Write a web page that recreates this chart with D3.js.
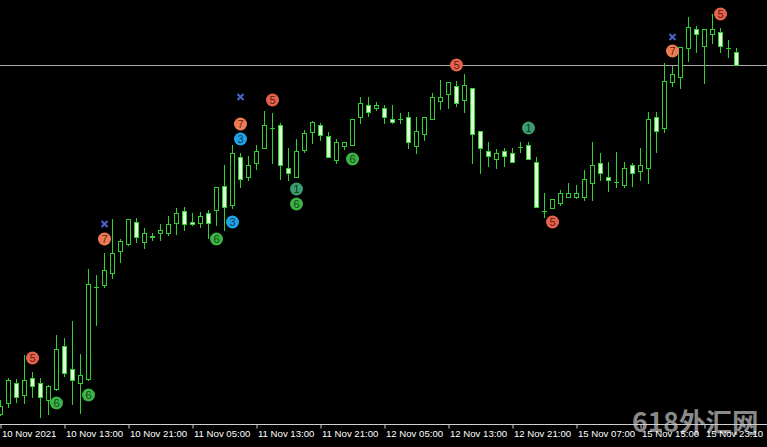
<!DOCTYPE html>
<html>
<head>
<meta charset="utf-8">
<script src="https://cdn.jsdelivr.net/npm/d3@7"></script>
<style>
html,body{margin:0;padding:0;background:#000;overflow:hidden;}
svg{display:block;}
</style>
</head>
<body>
<svg id="chart" width="767" height="447"></svg>
<script>
// ---- DATA (hourly candles, price in points) ----
const openV  = [1006,1017,1037,1025,1042,1037,1020,1031,1074,1051,1037,1041,1133,1135,1147,1169,1176,1198,1178,1183,1187,1187,1197,1209,1198,1197,1207,1210,1234,1215,1263,1243,1257,1272,1292,1295,1252,1243,1270,1288,1295,1284,1260,1274,1275,1303,1315,1312,1312,1301,1301,1303,1274,1286,1301,1319,1326,1334,1320,1332,1289,1269,1261,1269,1267,1273,1275,1258,1209,1212,1217,1223,1223,1223,1237,1257,1243,1238,1235,1255,1249,1252,1303,1292,1338,1343,1372,1391,1374,1386,1388,1372,1368];
const closeV = [1014,1040,1023,1040,1034,1023,1034,1071,1047,1040,1045,1136,1133,1150,1167,1179,1201,1183,1187,1184,1190,1196,1207,1196,1196,1204,1197,1233,1213,1267,1241,1255,1269,1295,1292,1255,1247,1269,1287,1298,1285,1263,1278,1278,1301,1317,1308,1315,1303,1298,1301,1278,1289,1303,1323,1323,1338,1317,1335,1286,1272,1264,1267,1264,1258,1273,1261,1213,1209,1221,1227,1227,1227,1241,1255,1247,1240,1238,1252,1247,1255,1301,1289,1339,1346,1373,1393,1386,1391,1391,1374,1372,1355];
const highV  = [1020,1042,1041,1065,1048,1042,1035,1085,1082,1099,1066,1151,1145,1167,1201,1181,1201,1202,1192,1187,1196,1204,1212,1213,1207,1208,1210,1233,1255,1275,1267,1264,1275,1309,1307,1297,1272,1281,1290,1299,1297,1288,1281,1278,1301,1323,1323,1318,1315,1315,1307,1308,1303,1303,1327,1340,1338,1339,1346,1332,1289,1278,1271,1272,1272,1278,1278,1263,1227,1221,1230,1237,1235,1250,1278,1267,1258,1268,1258,1257,1272,1308,1308,1357,1354,1373,1403,1394,1391,1406,1392,1380,1372];
const lowV   = [1005,1013,1018,1017,1023,1003,1006,1030,1044,1016,1007,1040,1095,1133,1142,1158,1175,1178,1172,1180,1180,1185,1186,1190,1195,1193,1182,1195,1190,1212,1233,1240,1251,1272,1257,1241,1240,1243,1268,1277,1280,1263,1257,1271,1275,1297,1304,1310,1297,1297,1297,1272,1267,1280,1301,1311,1312,1314,1308,1257,1247,1254,1252,1254,1258,1268,1261,1213,1203,1212,1215,1223,1222,1220,1220,1240,1229,1233,1233,1234,1240,1237,1268,1288,1334,1332,1359,1368,1337,1377,1368,1363,1355];

const tickIndex  = [0,8,16,24,32,40,48,56,64,72,80,88];
const tickLabels = ["10 Nov 2021","10 Nov 13:00","10 Nov 21:00","11 Nov 05:00","11 Nov 13:00","11 Nov 21:00","12 Nov 05:00","12 Nov 13:00","12 Nov 21:00","15 Nov 07:00","15 Nov 15:00","15 Nov 23:10"];

const priceLine = 1355;

// signal markers
const markerIndex = [4,7,11,13,27,29,30,30,34,37,37,44,57,66,69,84,90];
const markerValue = [1062,1017,1025,1181,1181,1198,1281,1296,1320,1231,1216,1261,1355,1292,1198,1369,1406];
const markerLabel = ["5","6","6","7","6","3","3","7","5","1","6","6","5","1","5","7","5"];
const crossIndex  = [13,30,84];
const crossValue  = [1196,1323,1383];

// ---- DRAW ----
const W = 767, H = 447;
const svg = d3.select("#chart");
svg.append("rect").attr("width",W).attr("height",H).attr("fill","#000");

const x = d3.scaleLinear().domain([0,92]).range([0,736]);
const y = d3.scaleLinear().domain([1000,1420]).range([420,0]);

const UP = "#2fd02f", FILL_DN = "#defcd6";
const candles = openV.map((o,i)=>({i,o,c:closeV[i],h:highV[i],l:lowV[i]}));

// watermark (behind everything)
svg.append("text").text("618外汇网")
  .attr("x",632).attr("y",432)
  .attr("font-family","Noto Sans CJK SC, sans-serif").attr("font-weight",700).attr("font-size",26.5)
  .attr("fill","#a4a4a4").attr("fill-opacity",0.85);

// price line
svg.append("line")
  .attr("x1",0).attr("x2",W)
  .attr("y1",Math.round(y(priceLine))+0.5).attr("y2",Math.round(y(priceLine))+0.5)
  .attr("stroke","#a8a8a8").attr("stroke-width",1);

const g = svg.append("g");
const cg = g.selectAll("g.c").data(candles).join("g").attr("class","c");
cg.append("line")
  .attr("x1",d=>Math.round(x(d.i))+0.5).attr("x2",d=>Math.round(x(d.i))+0.5)
  .attr("y1",d=>Math.round(y(d.h))).attr("y2",d=>Math.round(y(d.l))+1)
  .attr("stroke",UP).attr("stroke-width",1);
cg.each(function(d){
  const sel = d3.select(this);
  const top = Math.round(y(Math.max(d.o,d.c)));
  const bot = Math.round(y(Math.min(d.o,d.c)));
  const cx = Math.round(x(d.i));
  if (bot - top < 1) {
    sel.append("line").attr("x1",cx-2).attr("x2",cx+3)
      .attr("y1",top+0.5).attr("y2",top+0.5).attr("stroke",UP);
  } else {
    sel.append("rect")
      .attr("x",cx-2+0.5).attr("y",top+0.5)
      .attr("width",4).attr("height",bot-top)
      .attr("fill", d.c < d.o ? FILL_DN : "#000")
      .attr("stroke",UP).attr("stroke-width",1);
  }
});

// markers
const colorOf = {"5":"#e8614c","7":"#f07a52","6":"#3cb445","3":"#1fa3ea","1":"#3a9b70"};
const mk = svg.append("g").selectAll("g").data(markerIndex.map((m,k)=>({i:m,v:markerValue[k],t:markerLabel[k]})))
  .join("g").attr("transform",d=>`translate(${x(d.i)+0.5},${y(d.v)})`);
mk.append("circle").attr("r",6.5).attr("fill",d=>colorOf[d.t]);
mk.append("text").text(d=>d.t)
  .attr("text-anchor","middle").attr("dy","0.36em")
  .attr("font-family","Liberation Sans, Arial, sans-serif").attr("font-size",11)
  .attr("fill","#000").attr("fill-opacity",0.7);

// crosses
svg.append("g").selectAll("path").data(crossIndex.map((m,k)=>({i:m,v:crossValue[k]})))
  .join("path")
  .attr("d",d=>{const cx=x(d.i)+0.5, cy=y(d.v); return `M${cx-3},${cy-3}L${cx+3},${cy+3}M${cx+3},${cy-3}L${cx-3},${cy+3}`;})
  .attr("stroke","#4a66cc").attr("stroke-width",2);

// x axis
const axis = d3.axisBottom(x).tickValues(tickIndex).tickFormat((d,k)=>tickLabels[k]).tickSize(4).tickSizeOuter(0);
const ax = svg.append("g").attr("transform","translate(0.5,424.5)").call(axis);
ax.select(".domain").attr("d",`M-1,0H${W}`).attr("stroke","#cfcfcf");
ax.selectAll(".tick line").attr("stroke","#cfcfcf");
ax.selectAll(".tick text")
  .attr("text-anchor","start").attr("x",1).attr("y",12).attr("dy","0")
  .attr("font-family","Liberation Sans, Arial, sans-serif").attr("font-size",9.6)
  .attr("fill","#ffffff");
</script>
</body>
</html>
